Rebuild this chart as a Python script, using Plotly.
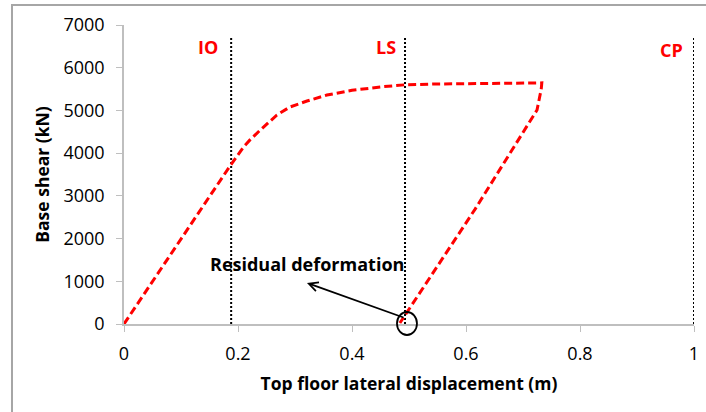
import plotly.graph_objects as go

# Pushover / cyclic curve (top floor displacement in m, base shear in kN)
disp = [0, 0.10, 0.186, 0.21, 0.221, 0.239, 0.268, 0.291, 0.321, 0.356, 0.40, 0.45,
        0.493, 0.55, 0.65, 0.733, 0.732, 0.728, 0.7246, 0.616, 0.484]
shear = [0, 2000, 3700, 4150, 4310, 4540, 4890, 5080, 5220, 5360, 5470, 5550,
         5600, 5620, 5635, 5645, 5500, 5245, 5010, 2690, 23]

# Performance levels
level_names = ["IO", "LS", "CP"]
level_disp = [0.188, 0.493, 1.0]
level_top = 6700
label_disp = [0.147, 0.46, 0.96]
label_shear = [6486, 6486, 6415]

x_ticks = [0, 0.2, 0.4, 0.6, 0.8, 1]
x_ticktext = ["0", "0.2", "0.4", "0.6", "0.8", "1"]
y_ticks = [0, 1000, 2000, 3000, 4000, 5000, 6000, 7000]

FONT = "Open Sans"

fig = go.Figure()

for xv in level_disp:
    fig.add_trace(go.Scatter(x=[xv, xv], y=[0, level_top], mode="lines",
                             line=dict(color="black", width=2, dash="2px,2px"),
                             hoverinfo="skip", showlegend=False, cliponaxis=False))

fig.add_trace(go.Scatter(x=disp, y=shear, mode="lines",
                         line=dict(color="#ff0000", width=3, dash="8px,4px"),
                         showlegend=False))

for name, xv, yv in zip(level_names, label_disp, label_shear):
    fig.add_annotation(x=xv, y=yv, text="<b>%s</b>" % name, showarrow=False,
                       font=dict(family=FONT, size=18, color="#ff0000"))

# Residual deformation label and arrow
fig.add_annotation(x=0.321, y=1405, text="<b>Residual deformation</b>", showarrow=False,
                   font=dict(family=FONT, size=18, color="black"))
fig.add_annotation(x=0.321, y=960, ax=0.493, ay=140, axref="x", ayref="y",
                   xref="x", yref="y", text="", showarrow=True,
                   arrowhead=5, arrowsize=1, arrowwidth=1.8, arrowcolor="black")

# Ellipse around residual point (paper coordinates so it is not clipped)
fig.add_shape(type="circle", xref="paper", yref="paper",
              x0=0.4789, x1=0.5140, y0=-0.0368, y1=0.0401,
              line=dict(color="black", width=1.8))

# Chart frame border
fig.add_shape(type="rect", xref="paper", yref="paper",
              x0=-0.1965, x1=1.05, y0=-0.5, y1=1.0669,
              line=dict(color="#a6a6a6", width=2), layer="below")

fig.update_xaxes(range=[0, 1], tickvals=x_ticks, ticktext=x_ticktext, automargin=False,
                 showline=True, linecolor="#bfbfbf", linewidth=1.5,
                 ticks="outside", ticklen=6, tickcolor="#bfbfbf", ticklabelstandoff=7,
                 showgrid=False, zeroline=False,
                 tickfont=dict(family=FONT, size=18, color="black"),
                 title=dict(text="<b>Top floor lateral displacement (m)</b>",
                            font=dict(family=FONT, size=17.5, color="black"), standoff=13))
fig.update_yaxes(range=[0, 7000], tickvals=y_ticks, automargin=False,
                 showline=True, linecolor="#bfbfbf", linewidth=1.5,
                 ticks="outside", ticklen=6, tickcolor="#bfbfbf", ticklabelstandoff=8,
                 showgrid=False, zeroline=False,
                 tickfont=dict(family=FONT, size=18, color="black"),
                 title=dict(text="<b>Base shear (kN)</b>",
                            font=dict(family=FONT, size=17.5, color="black"), standoff=9))

fig.update_layout(width=706, height=412, margin=dict(l=124, r=12, t=25, b=88),
                  plot_bgcolor="white", paper_bgcolor="white", showlegend=False)

fig.write_html("out.html")
